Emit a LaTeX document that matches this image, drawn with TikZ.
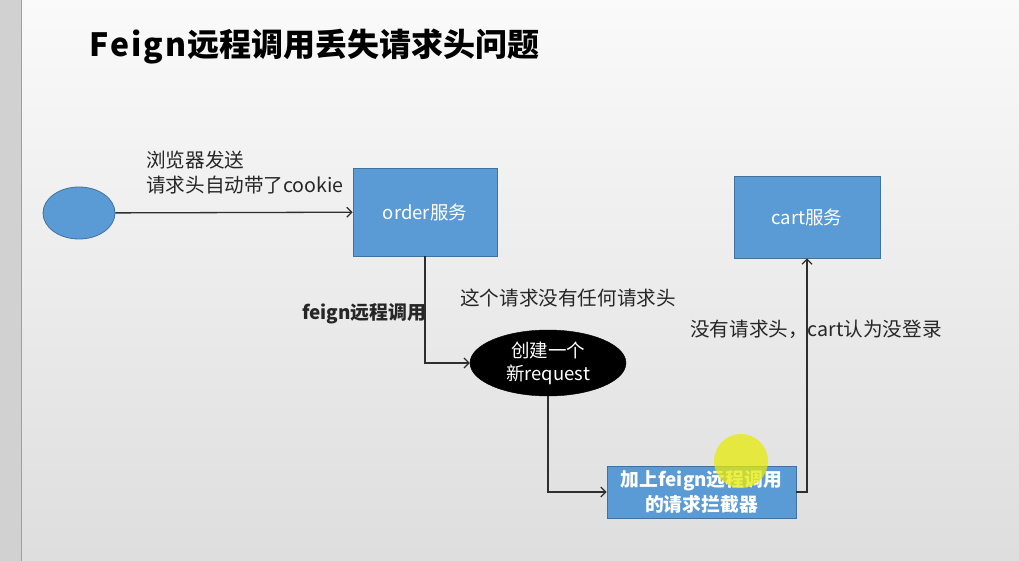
\documentclass[tikz,border=0pt]{standalone}
\usepackage{fontspec}
\setmainfont{Noto Sans CJK SC}
\usetikzlibrary{shapes.geometric,arrows.meta}
\definecolor{boxblue}{HTML}{5B9BD5}
\definecolor{boxedge}{HTML}{41719C}
\definecolor{linegray}{HTML}{2E2E2E}
\begin{document}
\begin{tikzpicture}[x=1pt,y=-1pt,
  svc/.style={rectangle, fill=boxblue, draw=boxedge, line width=0.8pt, text=white, font=\fontsize{18.5}{22}\selectfont, align=center, inner sep=0pt},
  conn/.style={draw=linegray, line width=1.3pt, -{Straight Barb[length=5pt,width=10pt,line width=1.2pt]}},
  lbl/.style={anchor=west, text=black!85, font=\fontsize{19.6}{25}\selectfont, align=left, inner sep=0pt}
]
\useasboundingbox (0,0) rectangle (1019,561);
% background
\shade[top color=white!98!black, bottom color=white!87!black] (0,0) rectangle (1019,561);
\fill[white!82!black] (0,0) rectangle (21,561);
\draw[white!62!black, line width=1.5pt] (21.5,0) -- (21.5,561);
% title
\node[anchor=west, inner sep=0pt, font=\fontsize{32}{36}\bfseries\selectfont] (title) at (89,47) {F\kern2pt e\kern2pt i\kern2pt g\kern2pt n\kern1pt 远程调用丢失请求头问题};
% nodes
\node[ellipse, fill=boxblue, draw=boxedge, line width=0.8pt, minimum width=72, minimum height=52, inner sep=0pt] (browser) at (79,213) {};
\node[svc, minimum width=144, minimum height=88] (order) at (425,212) {order服务};
\node[svc, minimum width=146, minimum height=82] (cart) at (807,217) {cart服务};
\node[ellipse, fill=black, draw=black, text=white, minimum width=156, minimum height=66, inner sep=0pt, align=center, font=\fontsize{18.5}{23}\selectfont] (req) at (548,363) {创建一个\\新request};
\node[svc, minimum width=189, minimum height=52, font=\fontsize{18.8}{25}\bfseries\selectfont] (intc) at (701.5,492) {加上feign远程调用\\的请求拦截器};
% highlight
\fill[yellow!90!green, opacity=0.75] (741,461) circle (27);
% connectors
\draw[conn] (browser) -- (order);
\draw[conn] (order.south) |- (req.west);
\draw[conn] (req.south) |- (intc.west);
\draw[conn] (intc.east) -| (cart.south);
% labels
\node[lbl] (l1) at (146,173) {浏览器发送\\请求头自动带了cookie};
\node[lbl, font=\fontsize{18.9}{22}\bfseries\selectfont] (l2) at (302,314) {feign远程调用};
\node[lbl] (l3) at (460,298) {这个请求没有任何请求头};
\node[lbl] (l4) at (690,329) {没有请求头，cart认为没登录};
\end{tikzpicture}
\end{document}
